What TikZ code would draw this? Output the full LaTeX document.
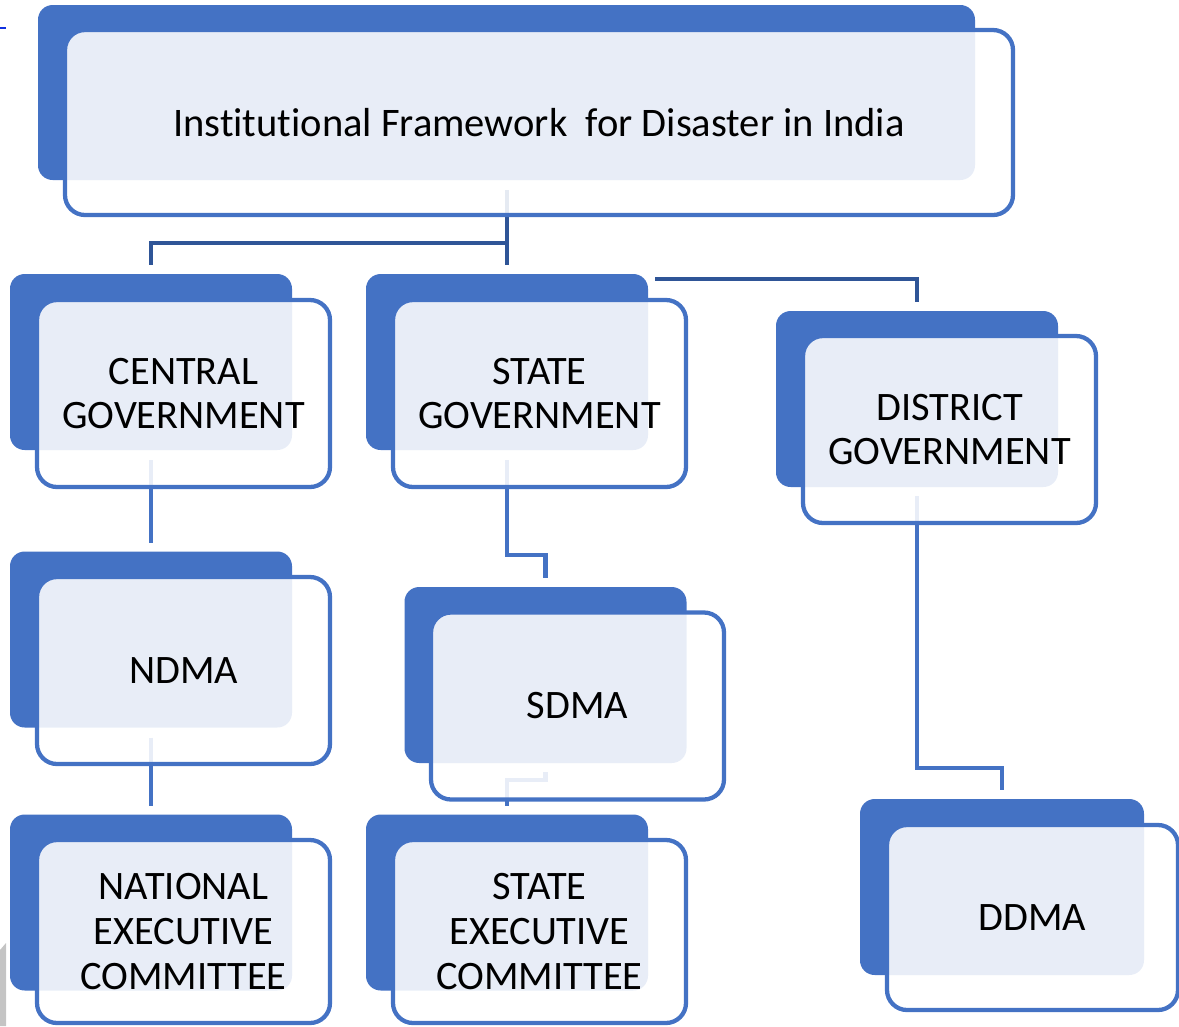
\documentclass[tikz,border=0pt]{standalone}
\usepackage{fontspec}
\setmainfont[Ligatures=CommonOff]{Carlito}
\usetikzlibrary{calc}
\pgfdeclarelayer{bg}
\pgfsetlayers{bg,main}
\definecolor{boxblue}{HTML}{4472C4}
\definecolor{connblue}{HTML}{2F5597}
\definecolor{artblue}{HTML}{1030E0}
\definecolor{artgray}{HTML}{C4C4C4}
\newcommand\topfont{\fontsize{30.4}{36}\selectfont}
\newcommand\boxfont{\fontsize{30.3}{33.5}\selectfont}
\begin{document}
\begin{tikzpicture}[x=0.75pt,y=-0.75pt,
  back/.style={fill=boxblue, rounded corners=11pt, inner sep=0pt, outer sep=0pt,
    minimum width=211.5pt, minimum height=132pt},
  front/.style={draw=boxblue, line width=3.2pt, fill=white, fill opacity=0.88,
    text opacity=1, rounded corners=15pt, inner sep=0pt, outer sep=0pt,
    align=center, font=\boxfont, minimum width=219.75pt, minimum height=140.25pt},
  conn/.style={draw=connblue, line width=3.2pt},
  connlight/.style={draw=boxblue, line width=3.2pt}]
\useasboundingbox (0,0) rectangle (1179,1026);
% small artefacts at the left edge
\draw[artblue, line width=1.2pt] (0,28) -- (6,28);
\fill[artgray] (0,950) -- (6,943) -- (6,1026) -- (0,1026) -- cycle;

% top
\node[back, minimum width=702.75pt, minimum height=131.25pt] (topB) at (506.5,92.5) {};
\node[front, minimum width=711pt, minimum height=138.75pt, font=\topfont] (topF) at (539,122.5)
  {Institutional Framework\ \ for Disaster in India};

% second row
\node[back] (cenB) at (151,362) {};
\node[front] (cenF) at (183.5,393.5) {CENTRAL\\GOVERNMENT};
\node[back] (staB) at (507,362) {};
\node[front] (staF) at (539.5,393.5) {STATE\\GOVERNMENT};
\node[back] (disB) at (917,399) {};
\node[front] (disF) at (949.5,429.5) {DISTRICT\\GOVERNMENT};

% third row
\node[back] (ndmB) at (151,639.5) {};
\node[front] (ndmF) at (183.5,670.5) {NDMA};
\node[back] (sdmB) at (545.5,675) {};
\node[front] (sdmF) at (577.5,706) {SDMA};

% bottom row
\node[back] (necB) at (151,902.5) {};
\node[front, minimum height=137.25pt] (necF) at (183.5,931.5) {NATIONAL\\EXECUTIVE\\COMMITTEE};
\node[back] (secB) at (507,902.5) {};
\node[front, minimum height=137.25pt] (secF) at (539.5,931.5) {STATE\\EXECUTIVE\\COMMITTEE};
\node[back, minimum width=213pt] (ddmB) at (1002,887) {};
\node[front, minimum width=218.25pt, minimum height=138.75pt] (ddmF) at (1032.5,917.5) {DDMA};

% connectors (behind the boxes)
\begin{pgfonlayer}{bg}
\draw[conn] ($(staB.north |- topB.south)+(0,10)$) -- ($(staB.north)+(0,-9)$);
\draw[conn] ($(staB.north)+(0,-31)$) -| ($(cenB.north)+(0,-9)$);
\draw[conn] ($(staB.north east)+(7,5)$) -| ($(disB.north)+(0,-9)$);
\draw[connlight] ($(cenB.south)+(0,10)$) -- ($(ndmB.north)+(0,-9)$);
\draw[connlight] ($(ndmB.south)+(0,10)$) -- ($(necB.north)+(0,-9)$);
\draw[connlight] ($(staB.south)+(0,10)$) |- ($(sdmB.north)+(0,-32)$) -- ($(sdmB.north)+(0,-9)$);
\draw[connlight] ($(sdmB.south)+(0,9)$) -- ($(sdmB.south)+(0,17)$) -| ($(secB.north)+(0,-9)$);
\draw[connlight] ($(disB.south)+(0,9)$) |- ($(ddmB.north)+(0,-31)$) -- ($(ddmB.north)+(0,-9)$);
\end{pgfonlayer}
\end{tikzpicture}
\end{document}
